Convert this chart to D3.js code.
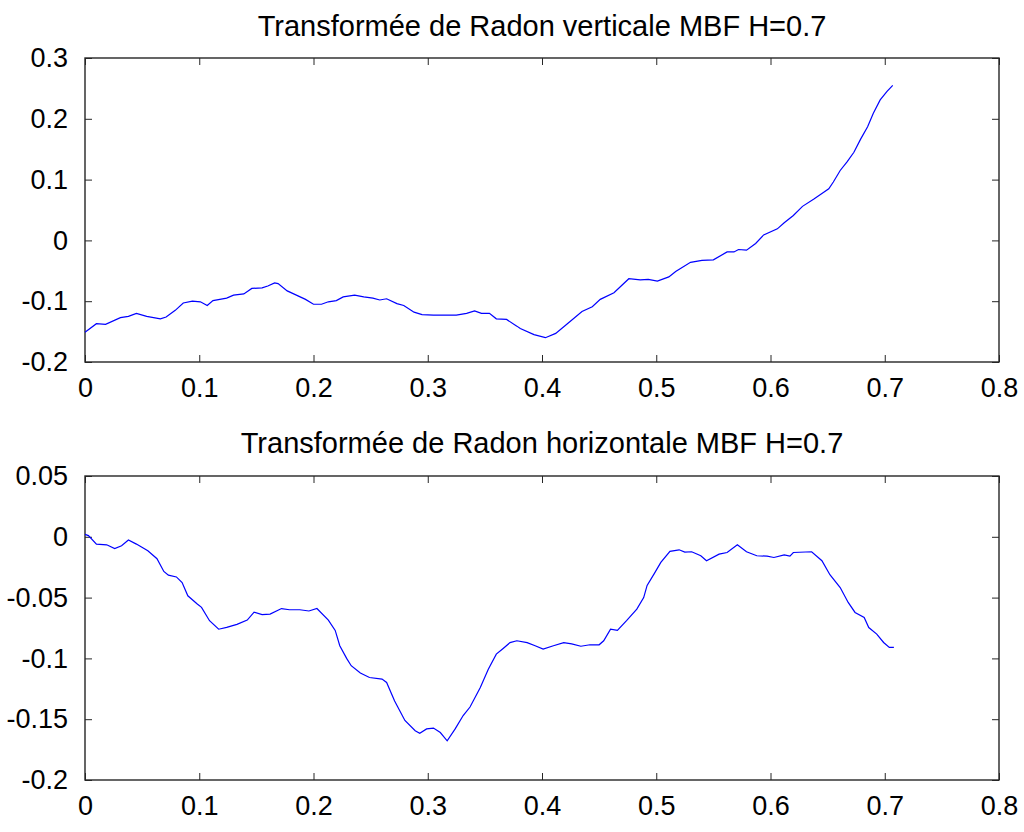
<!DOCTYPE html>
<html><head><meta charset="utf-8">
<script src="https://cdn.jsdelivr.net/npm/d3@7"></script>
<style>body{margin:0;background:#fff;} svg{display:block;} text{font-family:"Liberation Sans",Arial,sans-serif;fill:#000;}</style>
</head><body><svg id="c" width="1024" height="832"></svg>
<script>
// Top panel data: vertical Radon transform
const topTitle = "Transformée de Radon verticale MBF H=0.7";
const topX = [0,0.010,0.018,0.031,0.038,0.045,0.054,0.066,0.071,0.079,0.086,0.094,0.101,0.107,0.112,0.118,0.124,0.130,0.139,0.146,0.155,0.160,0.166,0.169,0.177,0.185,0.193,0.200,0.207,0.213,0.220,0.226,0.236,0.244,0.252,0.258,0.264,0.273,0.279,0.288,0.295,0.305,0.314,0.325,0.334,0.341,0.347,0.354,0.360,0.369,0.378,0.381,0.393,0.403,0.412,0.423,0.435,0.444,0.451,0.463,0.476,0.486,0.493,0.501,0.511,0.517,0.530,0.540,0.550,0.562,0.568,0.572,0.579,0.587,0.594,0.606,0.612,0.620,0.628,0.638,0.645,0.651,0.655,0.661,0.667,0.673,0.679,0.685,0.690,0.696,0.702,0.707];
const topY = [-0.151,-0.137,-0.138,-0.127,-0.125,-0.120,-0.125,-0.129,-0.126,-0.115,-0.103,-0.100,-0.101,-0.107,-0.099,-0.097,-0.095,-0.090,-0.088,-0.079,-0.078,-0.075,-0.070,-0.071,-0.083,-0.090,-0.097,-0.105,-0.105,-0.101,-0.099,-0.093,-0.090,-0.093,-0.095,-0.098,-0.096,-0.104,-0.107,-0.118,-0.122,-0.123,-0.123,-0.123,-0.120,-0.116,-0.120,-0.120,-0.129,-0.130,-0.141,-0.145,-0.155,-0.160,-0.153,-0.136,-0.117,-0.109,-0.097,-0.086,-0.063,-0.065,-0.064,-0.067,-0.060,-0.051,-0.036,-0.033,-0.032,-0.019,-0.019,-0.015,-0.016,-0.005,0.009,0.019,0.029,0.041,0.056,0.068,0.077,0.085,0.096,0.115,0.129,0.145,0.167,0.187,0.209,0.231,0.245,0.255];
const topYTicks = [-0.2,-0.1,0,0.1,0.2,0.3];
const topYLabels = ["-0.2","-0.1","0","0.1","0.2","0.3"];

// Bottom panel data: horizontal Radon transform
const botTitle = "Transformée de Radon horizontale MBF H=0.7";
const botX = [0,0.003,0.010,0.019,0.026,0.032,0.038,0.045,0.055,0.063,0.069,0.073,0.080,0.085,0.090,0.098,0.102,0.109,0.117,0.124,0.133,0.142,0.148,0.155,0.162,0.172,0.179,0.188,0.196,0.203,0.213,0.219,0.223,0.229,0.233,0.241,0.249,0.260,0.264,0.271,0.280,0.289,0.293,0.299,0.305,0.311,0.317,0.324,0.331,0.337,0.346,0.353,0.360,0.366,0.372,0.378,0.387,0.394,0.401,0.410,0.419,0.426,0.434,0.442,0.450,0.454,0.460,0.466,0.474,0.483,0.489,0.492,0.498,0.504,0.512,0.520,0.525,0.531,0.539,0.544,0.555,0.562,0.571,0.579,0.588,0.597,0.603,0.612,0.617,0.620,0.636,0.645,0.652,0.661,0.668,0.674,0.682,0.686,0.693,0.699,0.704,0.708];
const botY = [0.002,0.001,-0.006,-0.0066,-0.0096,-0.0074,-0.0027,-0.006,-0.0115,-0.018,-0.0285,-0.0315,-0.033,-0.0376,-0.0485,-0.055,-0.058,-0.069,-0.076,-0.0745,-0.072,-0.0685,-0.062,-0.064,-0.0636,-0.059,-0.060,-0.060,-0.061,-0.059,-0.0685,-0.077,-0.0896,-0.100,-0.106,-0.112,-0.1157,-0.117,-0.1198,-0.135,-0.151,-0.1595,-0.1615,-0.158,-0.1573,-0.161,-0.1678,-0.158,-0.147,-0.140,-0.124,-0.109,-0.0965,-0.0918,-0.087,-0.0855,-0.087,-0.0896,-0.0924,-0.0896,-0.087,-0.088,-0.090,-0.0888,-0.0888,-0.0855,-0.076,-0.077,-0.069,-0.0595,-0.050,-0.040,-0.0307,-0.0211,-0.012,-0.0107,-0.0126,-0.0123,-0.0156,-0.0197,-0.0143,-0.0129,-0.0066,-0.0123,-0.0156,-0.0159,-0.017,-0.0148,-0.0159,-0.0129,-0.0123,-0.0197,-0.0312,-0.0417,-0.054,-0.0622,-0.0663,-0.0746,-0.080,-0.0869,-0.091,-0.091];
const botYTicks = [-0.2,-0.15,-0.1,-0.05,0,0.05];
const botYLabels = ["-0.2","-0.15","-0.1","-0.05","0","0.05"];

const xTicks = [0,0.1,0.2,0.3,0.4,0.5,0.6,0.7,0.8];
const xLabels = ["0","0.1","0.2","0.3","0.4","0.5","0.6","0.7","0.8"];

const svg = d3.select("#c");
const L = 85, R = 999;

function panel(top, bottom, titleY, title, xs, ys, yDomain, yTicks, yLabels) {
  const g = svg.append("g");
  const x = d3.scaleLinear().domain([0, 0.8]).range([L, R]);
  const y = d3.scaleLinear().domain(yDomain).range([bottom, top]);
  const tl = 7;
  const axStyle = sel => { sel.select(".domain").remove(); sel.selectAll("line").attr("stroke","#262626").attr("stroke-width",1); };
  g.append("g").attr("transform",`translate(0,${bottom})`)
    .call(d3.axisBottom(x).tickValues(xTicks).tickFormat((d,i)=>xLabels[i]).tickSizeInner(-tl).tickSizeOuter(0).tickPadding(16))
    .call(axStyle)
    .call(s=>s.selectAll("text").attr("font-size",27).attr("font-family","Liberation Sans, Arial").attr("fill","#000"));
  g.append("g").attr("transform",`translate(0,${top})`)
    .call(d3.axisTop(x).tickValues(xTicks).tickFormat("").tickSizeInner(-tl).tickSizeOuter(0))
    .call(axStyle);
  g.append("g").attr("transform",`translate(${L},0)`)
    .call(d3.axisLeft(y).tickValues(yTicks).tickFormat((d,i)=>yLabels[i]).tickSizeInner(-tl).tickSizeOuter(0).tickPadding(17))
    .call(axStyle)
    .call(s=>s.selectAll("text").attr("font-size",27).attr("font-family","Liberation Sans, Arial").attr("fill","#000"));
  g.append("g").attr("transform",`translate(${R},0)`)
    .call(d3.axisRight(y).tickValues(yTicks).tickFormat("").tickSizeInner(-tl).tickSizeOuter(0))
    .call(axStyle);
  g.append("rect").attr("x",L).attr("y",top).attr("width",R-L).attr("height",bottom-top)
    .attr("fill","none").attr("stroke","#262626").attr("stroke-width",1.4);
  const data = xs.map((v,i)=>[v, ys[i]]);
  g.append("path").datum(data)
    .attr("d", d3.line().x(d=>x(d[0])).y(d=>y(d[1])))
    .attr("fill","none").attr("stroke","#0000ff").attr("stroke-width",1.2);
  g.append("text").attr("x",(L+R)/2).attr("y",titleY).attr("text-anchor","middle")
    .attr("font-size",29).text(title);
}

panel(58, 362, 36, topTitle, topX, topY, [-0.2, 0.3], topYTicks, topYLabels);
panel(476, 780, 453, botTitle, botX, botY, [-0.2, 0.05], botYTicks, botYLabels);
</script>
</body></html>
